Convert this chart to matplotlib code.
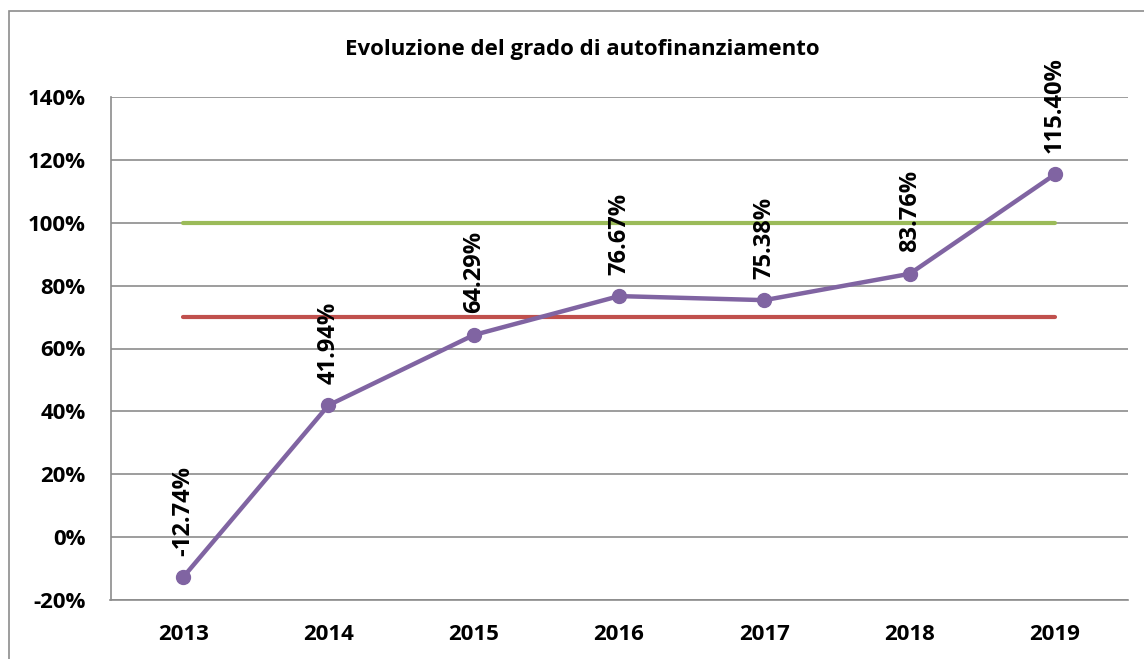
import matplotlib
matplotlib.use("Agg")
import matplotlib.pyplot as plt
from matplotlib.patches import Rectangle
from matplotlib.ticker import FuncFormatter

years = ["2013", "2014", "2015", "2016", "2017", "2018", "2019"]
values = [-12.74, 41.94, 64.29, 76.67, 75.38, 83.76, 115.40]
upper_ref = [100] * 7
lower_ref = [70] * 7
title = "Evoluzione del grado di autofinanziamento"

plt.rcParams['font.family'] = ['Open Sans', 'DejaVu Sans']
plt.rcParams['font.weight'] = 'bold'

W, H = 1144, 659
fig = plt.figure(figsize=(W / 100, H / 100), dpi=100)
fig.patch.set_facecolor('white')
fig.patches.append(Rectangle((9 / W, -0.05), 1.2, 1 - 11 / H + 0.05,
                             transform=fig.transFigure, fill=False,
                             edgecolor='#8c8c8c', linewidth=1.2))

left, right, top, bottom = 110.5, 1127.7, 97, 600
ax = fig.add_axes([left / W, 1 - bottom / H, (right - left) / W, (bottom - top) / H])

x = list(range(len(years)))
ax.plot(x, upper_ref, color='#9BBB59', linewidth=3, solid_capstyle='round', zorder=3)
ax.plot(x, lower_ref, color='#C0504D', linewidth=3, solid_capstyle='round', zorder=3)
ax.plot(x, values, color='#8064A2', linewidth=3.2, marker='o', markersize=10,
        solid_capstyle='round', zorder=4)

for xi, v in zip(x, values):
    ax.annotate(f"{v:.2f}%", (xi, v), xytext=(0, 15.5), textcoords='offset points',
                rotation=90, ha='center', va='bottom', fontsize=17, fontweight='bold')

ax.set_xlim(-0.5, len(years) - 0.5)
ax.set_ylim(-20, 140)
ax.set_yticks(range(-20, 141, 20))
ax.yaxis.set_major_formatter(FuncFormatter(lambda v, p: f"{int(v)}%"))
ax.set_xticks(x)
ax.set_xticklabels(years)
ax.tick_params(axis='both', length=0, labelsize=16)
ax.tick_params(axis='y', pad=18)
ax.tick_params(axis='x', pad=17)
for lab in ax.get_xticklabels() + ax.get_yticklabels():
    lab.set_fontweight('bold')

ax.grid(axis='y', color='#8c8c8c', linewidth=1.2)
ax.set_axisbelow(True)
for s in ['top', 'right']:
    ax.spines[s].set_visible(False)
for s in ['left', 'bottom']:
    ax.spines[s].set_color('#8c8c8c')
    ax.spines[s].set_linewidth(1.2)

fig.text(582 / W, 1 - 49 / H, title, ha='center', va='center',
         fontsize=16, fontweight='bold')

fig.savefig("out.png", dpi=100)
